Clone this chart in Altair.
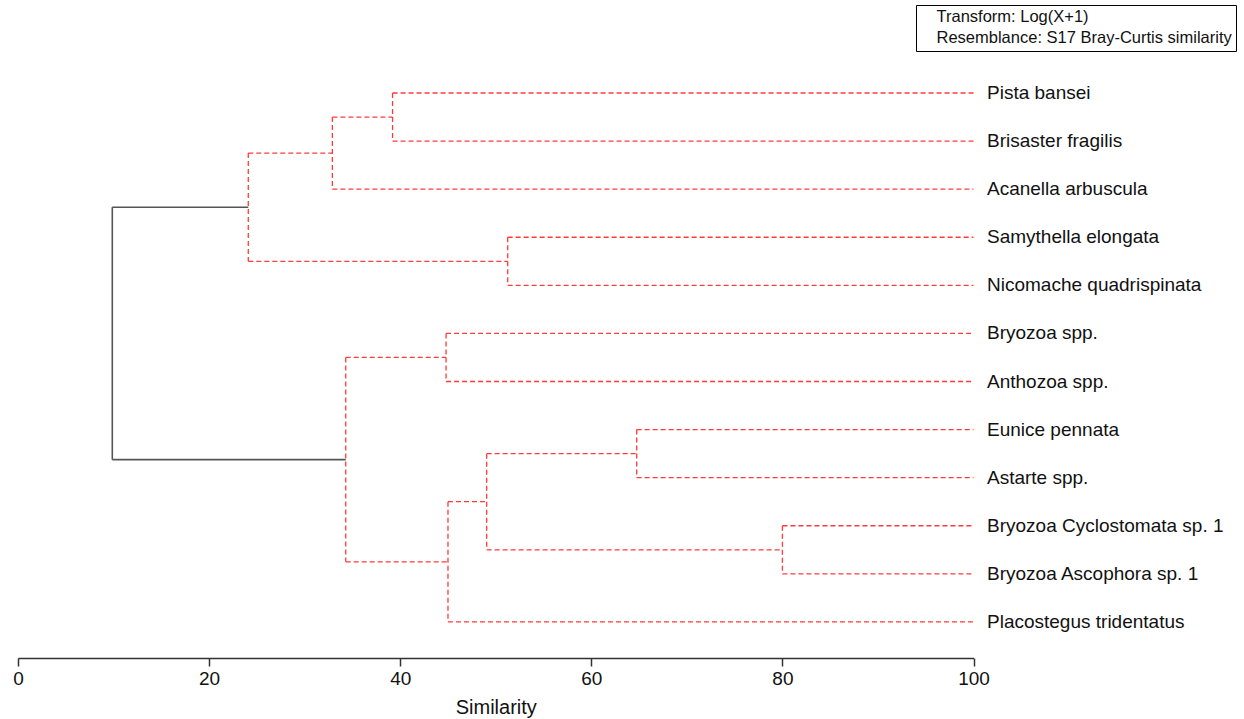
import altair as alt
import pandas as pd

# ---- data ----
leaves = [
    "Pista bansei", "Brisaster fragilis", "Acanella arbuscula",
    "Samythella elongata", "Nicomache quadrispinata", "Bryozoa spp.",
    "Anthozoa spp.", "Eunice pennata", "Astarte spp.",
    "Bryozoa Cyclostomata sp. 1", "Bryozoa Ascophora sp. 1",
    "Placostegus tridentatus",
]
# merges: node ids 0..11 are leaves, 12.. are merge nodes in order
merge_left = [0, 12, 3, 13, 5, 7, 9, 17, 19, 16, 15]
merge_right = [1, 2, 4, 14, 6, 8, 10, 18, 11, 20, 21]
merge_similarity = [39.2, 32.9, 51.25, 24.1, 44.8, 64.75, 80.0, 49.05, 45.0, 34.3, 9.87]
leaf_similarity = 100
notes = ["Transform: Log(X+1)", "Resemblance: S17 Bray-Curtis similarity"]
ticks = [0, 20, 40, 60, 80, 100]

# ---- build dendrogram segments ----
n = len(leaves)
node_y = {i: float(i) for i in range(n)}
node_s = {i: float(leaf_similarity) for i in range(n)}
rows = []
root_id = n + len(merge_left) - 1
for k, (a, b, s) in enumerate(zip(merge_left, merge_right, merge_similarity)):
    nid = n + k
    node_y[nid] = (node_y[a] + node_y[b]) / 2
    node_s[nid] = s
    kind = "root" if nid == root_id else "cluster"
    rows.append(dict(x=s, x2=s, y=node_y[a], y2=node_y[b], kind=kind))
    for c in (a, b):
        rows.append(dict(x=s, x2=node_s[c], y=node_y[c], y2=node_y[c], kind=kind))
seg = pd.DataFrame(rows)
leaf_df = pd.DataFrame({"name": leaves, "y": list(range(n)), "x": [leaf_similarity] * n})
note_df = pd.DataFrame({"note": notes})

FONT = "Liberation Sans"
xscale = alt.Scale(domain=[0, 100], nice=False, zero=False)
yscale = alt.Scale(domain=[-1, 11.75], reverse=True, nice=False, zero=False)
xaxis = alt.Axis(values=ticks, title="Similarity", grid=False, domainColor="#333333",
                 domainWidth=1.5, tickColor="#333333", tickWidth=1.5, tickSize=8,
                 labelFontSize=19, labelFont=FONT, labelColor="#111111", labelPadding=3,
                 labelFlush=False, titleFontSize=20, titleFont=FONT, titleFontWeight="normal",
                 titleColor="#111111", titlePadding=9)

base = alt.Chart(seg)
red = base.transform_filter(alt.datum.kind == "cluster").mark_rule(
    color="#ff3a3a", strokeWidth=1.3, strokeDash=[5, 3]
).encode(
    x=alt.X("x:Q", scale=xscale, axis=xaxis), x2="x2:Q",
    y=alt.Y("y:Q", scale=yscale, axis=None), y2="y2:Q",
)
black = base.transform_filter(alt.datum.kind == "root").mark_rule(
    color="#555555", strokeWidth=1.6
).encode(
    x=alt.X("x:Q", scale=xscale, axis=xaxis), x2="x2:Q",
    y=alt.Y("y:Q", scale=yscale, axis=None), y2="y2:Q",
)
labels = alt.Chart(leaf_df).mark_text(
    align="left", baseline="middle", dx=13.5, fontSize=19, font=FONT, color="#111111"
).encode(
    x=alt.X("x:Q", scale=xscale, axis=xaxis),
    y=alt.Y("y:Q", scale=yscale, axis=None),
    text="name:N",
)
note_layer = alt.Chart(note_df).mark_point(opacity=0).encode(
    x=alt.datum(0), y=alt.datum(0),
    color=alt.Color("note:N", scale=alt.Scale(domain=notes, range=["#000000", "#000000"]),
                    legend=alt.Legend(title=None, orient="none", legendX=898, legendY=-39.9,
                                      strokeColor="#000000", fillColor="#ffffff", padding=4,
                                      symbolSize=0, symbolOpacity=0, symbolStrokeWidth=0,
                                      labelOffset=0, labelFontSize=16.5, labelFont=FONT,
                                      labelColor="#111111", rowPadding=4, labelLimit=0,
                                      cornerRadius=0)),
)

chart = alt.layer(black, red, labels, note_layer).properties(
    width=955.5, height=613.1,
    autosize=alt.AutoSizeParams(type="none"),
    padding={"left": 18, "top": 44.9, "right": 270.5, "bottom": 61},
    background="white",
).configure_view(strokeWidth=0)

chart.save("out.html", embed_options={"renderer": "svg", "actions": False})
